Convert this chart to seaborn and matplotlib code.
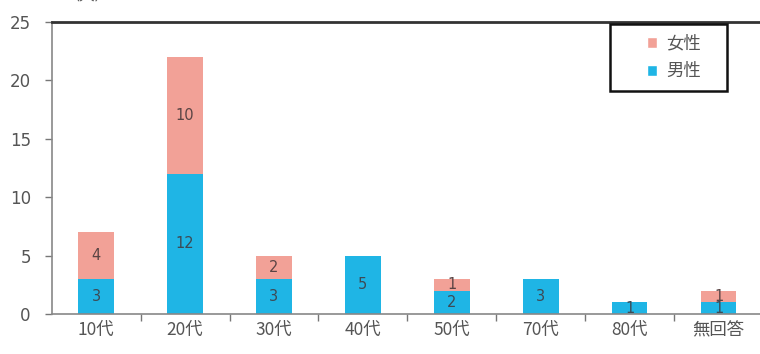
import matplotlib
matplotlib.use("Agg")
import matplotlib.pyplot as plt
import seaborn as sns
import numpy as np
import pandas as pd
from matplotlib.patches import Patch, Rectangle

# Respondents by age group and gender
categories = ["10代", "20代", "30代", "40代", "50代", "70代", "80代", "無回答"]
male = [3, 12, 3, 5, 2, 3, 1, 1]
female = [4, 10, 2, 0, 1, 0, 0, 1]
yticks = [0, 5, 10, 15, 20, 25]

COL_F = "#F2A197"
COL_M = "#1FB5E5"
TXT = "#555555"

sns.set_theme(style="white")
plt.rcParams["font.family"] = ["Noto Sans CJK JP", "DejaVu Sans"]

df = pd.DataFrame({"cat": categories, "male": male, "female": female})
df["total"] = df["male"] + df["female"]

fig = plt.figure(figsize=(7.6, 3.54), dpi=100)
ax = fig.add_axes([0.068, 0.113, 0.936, 0.825])

# Stack: total height in pink, male portion drawn over it in blue
sns.barplot(data=df, x="cat", y="total", color=COL_F, width=0.4,
            saturation=1, ax=ax, linewidth=0)
sns.barplot(data=df, x="cat", y="male", color=COL_M, width=0.4,
            saturation=1, ax=ax, linewidth=0)

for i, (m, f) in enumerate(zip(male, female)):
    if m > 0:
        ax.text(i, m / 2, str(m), ha="center", va="center",
                fontsize=10.5, color="#3d4a55", family="DejaVu Sans")
    if f > 0:
        ax.text(i, m + f / 2, str(f), ha="center", va="center",
                fontsize=10.5, color="#5a4444", family="DejaVu Sans")

ax.set_xlim(-0.5, len(categories) - 0.5)
ax.set_ylim(0, 25)
ax.set_yticks(yticks)
ax.set_yticklabels([str(v) for v in yticks], family="DejaVu Sans")
ax.set_xlabel("")
ax.set_ylabel("")

# Category boundary ticks on the x axis
ax.set_xticks(np.arange(len(categories)))
ax.set_xticklabels(categories)
ax.set_xticks(np.arange(len(categories)) + 0.5, minor=True)
ax.tick_params(axis="x", which="major", length=0, pad=5, labelsize=12.5, labelcolor=TXT)
ax.tick_params(axis="x", which="minor", bottom=True, length=5, width=1, color="#777777")
ax.tick_params(axis="y", left=True, length=5, width=1, color="#777777",
               labelsize=12, labelcolor=TXT, pad=10)

for side in ["left", "bottom"]:
    ax.spines[side].set_color("#888888")
    ax.spines[side].set_linewidth(1.2)
ax.spines["right"].set_visible(False)
ax.spines["top"].set_color("#333333")
ax.spines["top"].set_linewidth(2)

# Legend box with a fixed frame
W, H = 760.0, 354.0
fig.patches.append(Rectangle((610 / W, 1 - 91 / H), 117 / W, 67 / H,
                             transform=fig.transFigure, fill=True, facecolor="white",
                             edgecolor="#111111", linewidth=1.8, zorder=5))
handles = [Patch(facecolor=COL_F, label="女性"), Patch(facecolor=COL_M, label="男性")]
leg = fig.legend(handles=handles, loc="center", bbox_to_anchor=(674 / W, 1 - 57.5 / H),
                 frameon=False, fontsize=12.5, handlelength=0.6, handleheight=0.6,
                 handletextpad=0.5, labelspacing=0.55, borderpad=0)
leg.set_zorder(6)
for t in leg.get_texts():
    t.set_color(TXT)

fig.text(0.085, 1.015, "（人）", ha="left", va="center", fontsize=11, color=TXT)

fig.savefig("out.png", dpi=100)
